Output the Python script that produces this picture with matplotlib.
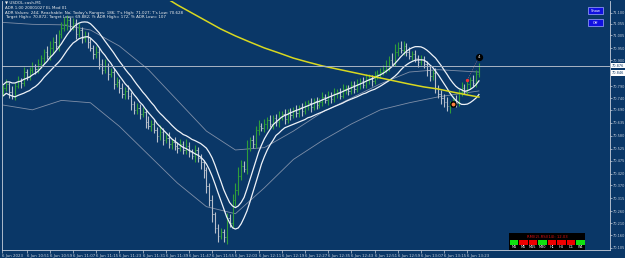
import numpy as np
import pandas as pd
import matplotlib.pyplot as plt
from matplotlib.patches import Rectangle

# M1 bars, 10:43 .. 13:27 on 6 Jun 2023
closes = [70.782, 70.799, 70.765, 70.749, 70.791, 70.816, 70.805, 70.850, 70.833, 70.859,
          70.876, 70.862, 70.884, 70.909, 70.935, 70.918, 70.952, 70.977, 70.960, 71.011,
          71.036, 71.053, 71.070, 71.045, 71.058, 71.011, 71.028, 70.994, 71.003, 70.977,
          70.952, 70.926, 70.935, 70.884, 70.859, 70.876, 70.842, 70.850, 70.799, 70.808,
          70.782, 70.757, 70.770, 70.749, 70.715, 70.689, 70.698, 70.672, 70.680, 70.638,
          70.622, 70.630, 70.605, 70.579, 70.596, 70.562, 70.571, 70.545, 70.554, 70.537,
          70.528, 70.545, 70.520, 70.537, 70.511, 70.494, 70.520, 70.486, 70.469, 70.435,
          70.367, 70.308, 70.249, 70.190, 70.156, 70.173, 70.150, 70.232, 70.210, 70.308,
          70.351, 70.410, 70.452, 70.440, 70.528, 70.562, 70.545, 70.605, 70.622, 70.613,
          70.630, 70.645, 70.628, 70.655, 70.638, 70.660, 70.672, 70.650, 70.681, 70.668,
          70.689, 70.676, 70.700, 70.684, 70.706, 70.718, 70.700, 70.726, 70.712, 70.723,
          70.744, 70.730, 70.750, 70.736, 70.760, 70.765, 70.750, 70.778, 70.782, 70.768,
          70.795, 70.780, 70.799, 70.812, 70.796, 70.818, 70.825, 70.810, 70.836, 70.842,
          70.850, 70.859, 70.876, 70.901, 70.890, 70.935, 70.952, 70.943, 70.960, 70.935,
          70.918, 70.926, 70.909, 70.892, 70.901, 70.884, 70.859, 70.833, 70.845, 70.782,
          70.757, 70.740, 70.723, 70.706, 70.715, 70.732, 70.720, 70.765, 70.782, 70.770,
          70.799, 70.816, 70.805, 70.842, 70.876]
first_open = 70.770

# wicks in points (0.001)
wick_up = [15, 20, 10, 25, 12, 18, 10, 22, 14, 12,
           18, 10, 20, 14, 12, 25, 30, 20, 35, 18,
           25, 30, 20, 15, 22, 18, 28, 12, 20, 15,
           18, 12, 25, 15, 20, 30, 12, 18, 15, 22,
           12, 20, 15, 25, 18, 12, 22, 15, 20, 12,
           25, 15, 20, 12, 30, 15, 18, 25, 12, 20,
           15, 22, 12, 30, 18, 15, 20, 12, 18, 10,
           15, 12, 20, 10, 15, 18, 12, 20, 15, 25,
           30, 40, 25, 20, 35, 15, 20, 18, 25, 12,
           20, 15, 22, 12, 18, 25, 15, 20, 12, 18,
           15, 20, 12, 18, 22, 15, 20, 12, 18, 15,
           20, 12, 18, 15, 22, 12, 18, 20, 15, 12,
           18, 15, 20, 12, 18, 22, 15, 12, 20, 18,
           15, 20, 25, 18, 30, 35, 25, 30, 20, 15,
           20, 15, 18, 12, 20, 15, 12, 18, 15, 20,
           12, 18, 15, 20, 12, 18, 22, 15, 25, 18,
           20, 15, 22, 18, 12]
wick_dn = [20, 12, 25, 15, 18, 10, 22, 12, 18, 15,
           12, 20, 15, 18, 22, 12, 15, 25, 12, 20,
           15, 12, 25, 20, 15, 22, 12, 20, 15, 25,
           12, 20, 15, 22, 18, 12, 25, 15, 20, 12,
           20, 15, 22, 12, 25, 18, 15, 20, 12, 25,
           15, 20, 12, 25, 15, 20, 12, 18, 22, 15,
           20, 12, 18, 15, 22, 12, 25, 18, 30, 35,
           30, 25, 35, 20, 25, 15, 20, 30, 18, 22,
           25, 20, 18, 15, 22, 12, 18, 15, 20, 12,
           15, 20, 12, 18, 15, 22, 12, 18, 15, 20,
           12, 18, 15, 20, 12, 15, 18, 12, 20, 15,
           15, 12, 20, 15, 12, 18, 15, 12, 20, 15,
           12, 18, 15, 20, 12, 15, 18, 20, 12, 15,
           18, 12, 15, 20, 12, 15, 18, 12, 20, 15,
           12, 18, 15, 20, 12, 18, 25, 20, 15, 22,
           18, 25, 20, 22, 30, 15, 20, 12, 18, 15,
           15, 20, 12, 18, 15]

# long moving average (yellow), sampled at bar indices
ma_idx = [55, 60, 65, 70, 75, 80, 85, 90, 95, 100, 105, 110, 115, 120,
          125, 130, 135, 140, 145, 150, 155, 160, 164]
ma_val = [71.172, 71.134, 71.100, 71.066, 71.032, 71.003, 70.977, 70.952, 70.931,
          70.909, 70.892, 70.876, 70.863, 70.850, 70.837, 70.825, 70.812, 70.799,
          70.787, 70.778, 70.765, 70.753, 70.744]

# outer bands (gray), sampled at bar indices
band_idx = [0, 10, 20, 30, 40, 50, 60, 70, 80, 90, 100, 110, 120, 130, 140, 150, 164]
band_up = [71.060, 71.052, 71.050, 71.028, 70.960, 70.860, 70.730, 70.600, 70.520,
           70.530, 70.600, 70.680, 70.740, 70.800, 70.850, 70.860, 70.850]
band_dn = [70.710, 70.690, 70.730, 70.720, 70.620, 70.500, 70.380, 70.280, 70.250,
           70.360, 70.480, 70.560, 70.630, 70.690, 70.720, 70.745, 70.770]

bid = 70.876
price_ticks = [71.100, 71.055, 71.005, 70.950, 70.900, 70.790, 70.740, 70.690, 70.635,
               70.580, 70.525, 70.475, 70.420, 70.370, 70.315, 70.260, 70.210, 70.160, 70.105]
time_labels = ["10:51", "10:59", "11:07", "11:15", "11:23", "11:31", "11:39", "11:47",
               "11:55", "12:03", "12:11", "12:19", "12:27", "12:35", "12:43", "12:51",
               "12:59", "13:07", "13:15", "13:23"]

tf_names = ["M1", "M5", "M15", "M30", "H1", "H4", "D1", "W1"]
tf_state = [1, 0, 0, 1, 0, 0, 0, 1]

BG = "#0a3767"
FG = "#c8d0dc"
W, H = 625, 258

closes = np.array(closes)
opens = np.concatenate([[first_open], closes[:-1]])
highs = np.maximum(opens, closes) + np.array(wick_up) / 1000
lows = np.minimum(opens, closes) - np.array(wick_dn) / 1000
idx = np.arange(len(closes))

fig = plt.figure(figsize=(W / 100, H / 100), dpi=100, facecolor=BG)
ax = fig.add_axes([2 / W, 8 / H, 608 / W, 249 / H], facecolor=BG)
ax.set_xlim(-0.5, 209.2)
ax.set_ylim(70.0965, 71.1508)

def fx(x):
    return x / W

def fy(y):
    return 1 - y / H

# bands
white_up = pd.Series(highs).rolling(10, min_periods=1).mean()
white_dn = pd.Series(lows).rolling(10, min_periods=1).mean()
ax.plot(band_idx, band_up, color="#7f8fa8", lw=0.6)
ax.plot(band_idx, band_dn, color="#7f8fa8", lw=0.6)

# bars
up = closes >= opens
cols = np.where(up, "#2f9e3a", "#b8c0cc")
ax.vlines(idx, lows, highs, colors=cols, lw=0.8)
ax.hlines(opens, idx - 0.45, idx, colors=cols, lw=0.5)
ax.hlines(closes, idx, idx + 0.45, colors=cols, lw=0.5)

ax.plot(idx, white_up, color="#eef2f8", lw=0.9)
ax.plot(idx, white_dn, color="#eef2f8", lw=0.9)
ax.plot(ma_idx, ma_val, color="#d8d820", lw=1.1)

ax.axhline(bid, color="#aab4c4", lw=0.7)

# signal markers
ax.plot([160, 164], [70.816, 70.914], ls=":", color="#a07080", lw=0.6)
ax.scatter([164], [70.914], s=18, color="black", zorder=5)
ax.text(164, 70.914, "4", color="white", fontsize=2.8, ha="center", va="center", zorder=6)
ax.scatter([155], [70.715], s=14, color="black", zorder=5)
ax.scatter([155], [70.715], s=3, color="#ff8040", zorder=6)
ax.scatter([160], [70.816], s=2, color="#ff3030", zorder=6)

# axes styling
ax.spines["top"].set_visible(False)
for s in ["left", "right", "bottom"]:
    ax.spines[s].set_color(FG)
    ax.spines[s].set_linewidth(0.6)
ax.yaxis.tick_right()
ax.set_yticks(price_ticks)
ax.set_yticklabels([f"{p:.3f}" for p in price_ticks])
ax.tick_params(axis="y", colors=FG, labelsize=2.5, length=1.5, width=0.5, pad=0.6)
xt = [-0.5] + [8 + 8 * k for k in range(len(time_labels))]
ax.set_xticks(xt)
ax.set_xticklabels(["6 Jun 2023"] + ["6 Jun " + t for t in time_labels], ha="left")
ax.tick_params(axis="x", colors=FG, labelsize=2.8, length=2, width=0.5, pad=1)

# price boxes on the right scale
for p in [bid, 70.846]:
    ax.text(1.003, p, f"{p:.3f}", transform=ax.get_yaxis_transform(), fontsize=2.5,
            color="#0a3767", va="center", ha="left",
            bbox=dict(boxstyle="square,pad=0.15", fc="white", ec="none"))

# info text
info = ["\u25bc USDOL.cash,M1",
        "ADR 1.00 20001027 EL Mod 01",
        "ADR Values: 244; Reachable: No; Today's Ranges: 186; T's High: 71.027; T's Low: 70.628",
        "Target High= 70.872; Target Low= 69.882; Yt ADR High= 172; Yt ADR Low= 107"]
for k, line in enumerate(info):
    fig.text(fx(5), fy(3 + 4.8 * k), line, color="#f0f0f0", fontsize=2.9, va="center", ha="left")

# buttons
for k, lab in enumerate(["Show", "Off"]):
    y0 = 7 + 12 * k
    fig.patches.append(Rectangle((fx(588), fy(y0 + 7)), 15 / W, 7 / H, transform=fig.transFigure,
                                 fc="#1010e0", ec="#a0a8ff", lw=0.5))
    fig.text(fx(595.5), fy(y0 + 3.5), lab, color="white", fontsize=2.6, ha="center", va="center")

# RMI/RSI panel
fig.patches.append(Rectangle((fx(509), fy(250)), 76 / W, 17 / H, transform=fig.transFigure,
                             fc="black", ec="none"))
fig.text(fx(547), fy(236.5), "RMI(2)-RSI(14): 12.03", color="#e01010", fontsize=2.7,
         ha="center", va="center")
cw = 76 / 8
for k, (name, st) in enumerate(zip(tf_names, tf_state)):
    x0 = 509 + k * cw
    fig.patches.append(Rectangle((fx(x0 + 0.5), fy(244.5)), (cw - 1) / W, 4.5 / H,
                                 transform=fig.transFigure,
                                 fc="#10e010" if st else "#ee0000", ec="none"))
    fig.text(fx(x0 + cw / 2), fy(247.3), name, color="white", fontsize=2.5, ha="center", va="center")

fig.savefig("out.png", dpi=100, facecolor=BG)
